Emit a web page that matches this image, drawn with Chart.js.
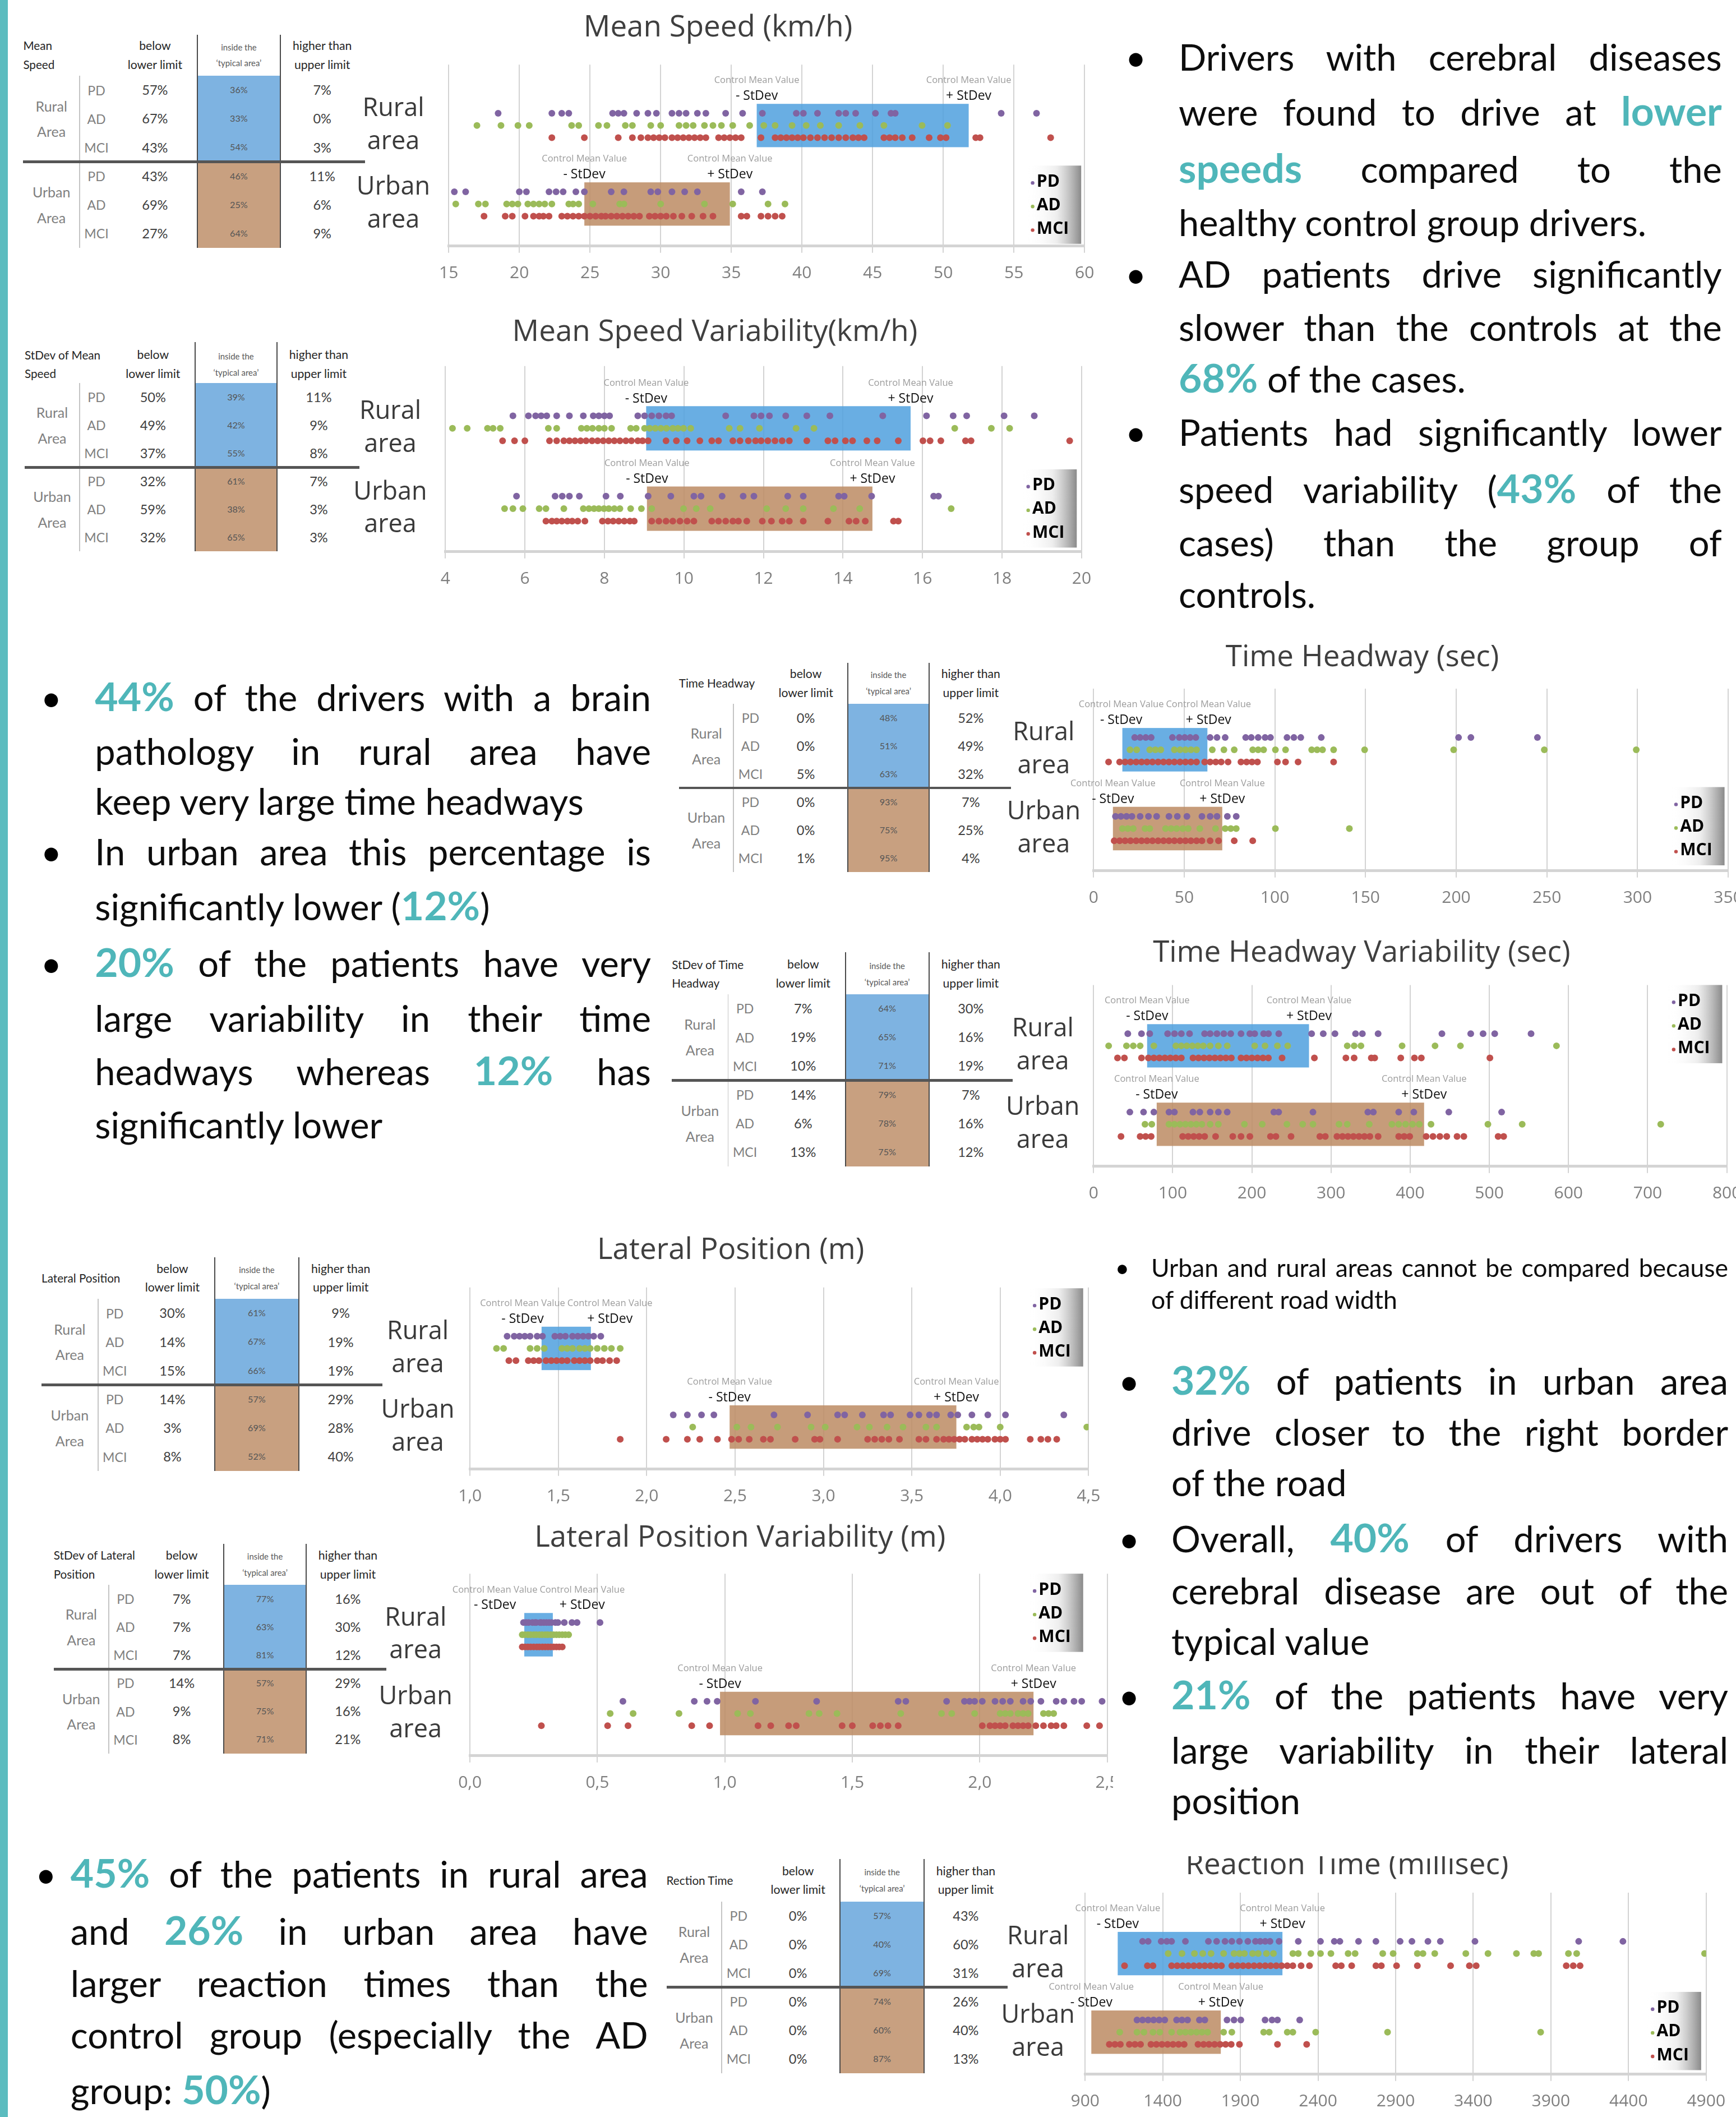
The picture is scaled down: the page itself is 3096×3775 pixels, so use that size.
<!DOCTYPE html>
<html>
<head>
<meta charset="utf-8">
<script src="https://cdn.jsdelivr.net/npm/chart.js@4.4.1/dist/chart.umd.min.js"></script>
<style>
html, body { margin: 0; padding: 0; overflow: hidden; background: #fff; }
body { width: 3096px; height: 3775px; position: relative; font-family: Lato, "Open Sans", sans-serif; }
b { color: #4fb6b9; font-weight: 700; font-size: 1.1em; line-height: 0; }
canvas { display: block; }
</style>
</head>
<body>
<script>
// ---- data ----
const groups = ['PD', 'AD', 'MCI'];
const groupColors = ['#8064a2', '#9bbb59', '#c0504d'];
const areaNames = [['Rural', 'area'], ['Urban', 'area']];

// Mean speed (km/h)
const speedTicks = [15, 20, 25, 30, 35, 40, 45, 50, 55, 60];
const speedBoxes = [[36.8, 51.8], [24.6, 34.9]];
const speedRuralPD = [18.5, 22.3, 23.0, 23.5, 26.6, 27.0, 27.4, 28.3, 29.1, 29.7, 30.8, 31.3, 31.8, 32.6, 33.2, 34.6, 35.8, 37.2, 39.6, 40.1, 41.1, 42.6, 43.1, 43.8, 45.2, 46.3, 46.6, 54.1, 56.6];
const speedRuralAD = [17.0, 18.7, 19.9, 20.7, 23.7, 24.2, 25.6, 26.2, 27.5, 28.0, 29.3, 30.0, 31.3, 31.8, 32.3, 33.1, 33.7, 34.3, 35.1, 36.3, 37.3, 38.1, 39.3, 40.3, 41.3, 42.6, 44.1, 45.8, 48.5, 50.3];
const speedRuralMCI = [22.3, 24.6, 27.0, 28.0, 28.6, 29.1, 29.5, 29.9, 30.3, 30.8, 31.2, 31.6, 32.0, 32.4, 32.8, 33.2, 34.1, 34.5, 34.9, 35.3, 35.7, 37.1, 38.1, 38.5, 38.9, 39.3, 39.7, 40.1, 40.6, 41.1, 41.6, 42.1, 42.6, 43.1, 43.6, 44.0, 44.4, 45.8, 46.2, 46.6, 47.1, 47.8, 49.0, 49.8, 50.2, 52.3, 52.6, 57.6];
const speedUrbanPD = [15.4, 16.2, 20.0, 20.5, 22.1, 22.6, 23.1, 24.0, 24.6, 26.5, 27.4, 29.3, 29.8, 30.8, 31.7, 32.6, 35.7, 37.2];
const speedUrbanAD = [15.5, 17.1, 17.6, 19.1, 19.5, 19.9, 20.6, 21.0, 21.4, 21.8, 22.3, 23.5, 23.8, 24.2, 25.2, 27.1, 27.4, 30.0, 33.1, 35.1, 37.6, 38.8];
const speedUrbanMCI = [17.5, 19.0, 19.5, 20.4, 21.0, 21.4, 21.7, 22.1, 23.0, 23.4, 23.8, 24.2, 24.6, 25.0, 25.4, 25.8, 26.1, 26.5, 26.9, 27.3, 27.7, 28.1, 28.5, 29.2, 29.6, 30.0, 30.4, 30.9, 31.5, 32.2, 33.0, 33.7, 35.7, 36.1, 37.1, 37.6, 38.1, 38.6];
const speedBelow = [57, 67, 43, 43, 69, 27];
const speedInside = [36, 33, 54, 46, 25, 64];
const speedHigher = [7, 0, 3, 11, 6, 9];

// Mean speed variability (km/h)
const speedVarTicks = [4, 6, 8, 10, 12, 14, 16, 18, 20];
const speedVarBoxes = [[9.05, 15.7], [9.07, 14.74]];
const speedVarRuralPD = [5.70, 6.09, 6.27, 6.41, 6.55, 6.80, 7.12, 7.47, 7.72, 7.86, 8.00, 8.13, 8.84, 9.01, 9.19, 9.37, 9.55, 9.69, 11.05, 11.76, 11.94, 12.15, 12.56, 13.09, 13.67, 15.00, 16.10, 16.77, 17.11, 18.05, 18.81];
const speedVarRuralAD = [4.18, 4.55, 5.06, 5.20, 5.38, 6.59, 6.80, 7.42, 7.56, 7.70, 7.86, 8.00, 8.18, 8.66, 8.80, 9.01, 9.14, 9.28, 9.42, 9.56, 9.72, 9.85, 9.99, 10.17, 11.14, 11.41, 11.90, 12.82, 13.27, 16.81, 17.73, 18.19];
const speedVarRuralMCI = [5.44, 5.74, 6.00, 6.62, 6.80, 6.98, 7.12, 7.26, 7.40, 7.54, 7.69, 7.83, 7.97, 8.11, 8.25, 8.39, 8.54, 8.68, 8.84, 8.96, 9.10, 9.55, 9.81, 10.08, 10.40, 10.70, 10.87, 11.23, 11.41, 11.62, 11.80, 11.94, 12.11, 12.29, 12.47, 12.65, 13.09, 13.62, 13.80, 14.06, 14.24, 14.60, 14.86, 15.39, 16.01, 16.19, 16.46, 17.08, 17.22, 19.70];
const speedVarUrbanPD = [5.79, 6.76, 6.94, 7.12, 7.37, 8.04, 8.40, 9.10, 9.67, 10.25, 10.43, 10.96, 11.49, 11.76, 12.61, 13.00, 13.89, 14.03, 14.72, 16.28, 16.40];
const speedVarUrbanAD = [5.49, 5.70, 5.95, 6.36, 6.53, 6.98, 7.47, 7.61, 7.74, 7.86, 7.99, 8.11, 8.25, 8.39, 8.66, 8.93, 9.19, 9.99, 10.31, 10.66, 12.08, 12.56, 13.00, 13.76, 14.42, 16.72];
const speedVarUrbanMCI = [6.53, 6.68, 6.80, 6.93, 7.07, 7.19, 7.33, 7.51, 7.95, 8.09, 8.22, 8.36, 8.50, 8.64, 8.75, 9.19, 9.37, 9.55, 9.72, 9.90, 10.08, 10.25, 10.70, 10.87, 11.05, 11.23, 11.37, 11.58, 11.97, 12.20, 12.47, 12.65, 13.00, 13.62, 14.15, 14.33, 14.56, 15.27, 15.39];
const speedVarBelow = [50, 49, 37, 32, 59, 32];
const speedVarInside = [39, 42, 55, 61, 38, 65];
const speedVarHigher = [11, 9, 8, 7, 3, 3];

// Time headway (sec)
const headwayTicks = [0, 50, 100, 150, 200, 250, 300, 350];
const headwayBoxes = [[15.9, 62.8], [10.7, 71.0]];
const headwayRuralPD = [22.7, 25.7, 28.8, 31.8, 43.5, 47.3, 50.3, 53.3, 56.4, 64.3, 68.1, 72.6, 83.9, 87.0, 90.8, 94.6, 97.6, 106.7, 110.5, 114.3, 125.6, 201.3, 208.1, 244.8];
const headwayRuralAD = [20.1, 23.8, 31.0, 34.1, 37.1, 44.6, 47.7, 50.7, 53.7, 56.8, 65.5, 71.9, 77.6, 87.8, 90.8, 93.8, 100.3, 105.9, 120.3, 123.3, 126.3, 132.4, 149.5, 198.6, 248.6, 299.3];
const headwayRuralMCI = [8.3, 14.4, 17.4, 20.4, 23.5, 26.5, 29.5, 32.5, 35.6, 38.6, 41.6, 44.6, 47.7, 50.7, 53.7, 56.8, 61.3, 64.3, 67.4, 70.4, 74.2, 81.3, 84.4, 87.4, 90.4, 101.4, 105.9, 112.8, 132.4];
const headwayUrbanPD = [12.1, 15.1, 18.2, 21.2, 25.7, 30.3, 34.8, 41.6, 46.2, 51.5, 59.8, 64.3, 68.1, 73.8, 78.7];
const headwayUrbanAD = [15.9, 18.9, 21.9, 28.4, 31.0, 39.7, 42.8, 45.8, 49.2, 52.2, 58.6, 67.3, 72.6, 75.7, 78.7, 100.3, 141.1];
const headwayUrbanMCI = [11.4, 14.4, 17.4, 20.4, 23.5, 26.5, 29.5, 32.5, 35.6, 38.6, 41.6, 44.6, 47.7, 50.7, 53.7, 56.8, 59.8, 64.3, 68.9, 77.6, 87.8];
const headwayBelow = [0, 0, 5, 0, 0, 1];
const headwayInside = [48, 51, 63, 93, 75, 95];
const headwayHigher = [52, 49, 32, 7, 25, 4];

// Time headway variability (sec)
const headwayVarTicks = [0, 100, 200, 300, 400, 500, 600, 700, 800];
const headwayVarBoxes = [[67.7, 272.2], [79.8, 417.6]];
const headwayVarRuralPD = [43.3, 60.6, 71.0, 93.6, 102.3, 110.9, 121.3, 140.3, 147.3, 155.9, 164.6, 173.3, 186.3, 197.5, 203.6, 214.9, 221.0, 234.0, 275.5, 290.2, 305.0, 331.0, 339.6, 359.5, 440.1, 476.5, 492.1, 506.8, 552.7];
const headwayVarRuralAD = [19.1, 41.6, 50.2, 58.9, 76.2, 104.0, 110.9, 117.8, 124.8, 131.7, 138.6, 147.3, 157.7, 168.9, 203.6, 216.6, 232.2, 245.2, 320.5, 329.2, 337.8, 389.8, 431.4, 463.5, 584.8];
const headwayVarRuralMCI = [30.3, 39.0, 60.6, 69.3, 76.2, 83.2, 90.1, 97.0, 103.9, 110.9, 125.6, 132.6, 139.5, 146.4, 153.3, 160.3, 167.2, 174.1, 186.3, 193.2, 200.1, 207.1, 214.0, 220.9, 238.2, 279.0, 318.8, 329.2, 350.9, 355.2, 388.1, 405.4, 414.1, 500.7];
const headwayVarUrbanPD = [45.9, 63.2, 76.2, 95.3, 102.2, 125.6, 134.3, 147.3, 157.7, 168.9, 227.8, 233.9, 277.2, 346.5, 353.5, 385.5, 404.6, 448.8, 515.5];
const headwayVarUrbanAD = [65.0, 73.6, 95.3, 102.2, 109.2, 116.1, 123.0, 129.9, 136.9, 147.3, 157.7, 190.6, 213.1, 244.3, 264.2, 277.2, 310.1, 320.5, 348.3, 376.9, 385.5, 394.2, 402.9, 411.5, 426.3, 498.2, 541.5, 716.5];
const headwayVarUrbanMCI = [34.7, 58.9, 65.8, 72.8, 112.6, 119.6, 126.5, 133.4, 140.4, 154.2, 175.9, 186.3, 197.5, 223.5, 230.4, 249.5, 285.9, 292.8, 307.5, 314.5, 321.4, 328.3, 335.3, 342.2, 349.1, 359.5, 385.5, 392.4, 399.4, 420.2, 428.8, 437.5, 446.2, 459.2, 467.8, 511.1, 518.1];
const headwayVarBelow = [7, 19, 10, 14, 6, 13];
const headwayVarInside = [64, 65, 71, 79, 78, 75];
const headwayVarHigher = [30, 16, 19, 7, 16, 12];

// Lateral position (m)
const lateralTicks = [1.0, 1.5, 2.0, 2.5, 3.0, 3.5, 4.0, 4.5];
const lateralBoxes = [[1.405, 1.684], [2.469, 3.752]];
const lateralRuralPD = [1.21, 1.25, 1.28, 1.31, 1.34, 1.38, 1.41, 1.48, 1.51, 1.54, 1.58, 1.61, 1.64, 1.67, 1.70, 1.74];
const lateralRuralAD = [1.15, 1.19, 1.34, 1.38, 1.42, 1.52, 1.55, 1.58, 1.62, 1.65, 1.68, 1.72, 1.76, 1.80, 1.85];
const lateralRuralMCI = [1.22, 1.26, 1.33, 1.36, 1.39, 1.43, 1.46, 1.49, 1.52, 1.55, 1.59, 1.62, 1.65, 1.68, 1.72, 1.75, 1.79, 1.83];
const lateralUrbanPD = [2.15, 2.23, 2.31, 2.38, 2.72, 2.91, 3.08, 3.12, 3.22, 3.34, 3.38, 3.49, 3.54, 3.60, 3.64, 3.72, 3.76, 3.84, 3.93, 4.03, 4.36];
const lateralUrbanAD = [2.26, 2.51, 2.59, 2.74, 2.93, 3.01, 3.19, 3.26, 3.36, 3.45, 3.58, 3.64, 3.81, 3.85, 3.88, 4.00, 4.49];
const lateralUrbanMCI = [1.85, 2.11, 2.23, 2.30, 2.40, 2.48, 2.52, 2.58, 2.66, 2.70, 2.84, 2.95, 2.98, 3.08, 3.25, 3.29, 3.33, 3.37, 3.43, 3.54, 3.58, 3.64, 3.68, 3.71, 3.74, 3.77, 3.80, 3.84, 3.87, 3.90, 3.93, 3.97, 4.00, 4.03, 4.17, 4.23, 4.27, 4.32];
const lateralBelow = [30, 14, 15, 14, 3, 8];
const lateralInside = [61, 67, 66, 57, 69, 52];
const lateralHigher = [9, 19, 19, 29, 28, 40];

// Lateral position variability (m)
const lateralVarTicks = [0, 0.5, 1.0, 1.5, 2.0, 2.5];
const lateralVarBoxes = [[0.213, 0.325], [0.981, 2.211]];
const lateralVarRuralPD = [0.21, 0.22, 0.23, 0.245, 0.255, 0.26, 0.275, 0.28, 0.29, 0.30, 0.31, 0.32, 0.335, 0.345, 0.37, 0.40, 0.42, 0.51];
const lateralVarRuralAD = [0.205, 0.215, 0.227, 0.238, 0.25, 0.26, 0.272, 0.283, 0.295, 0.305, 0.317, 0.328, 0.339, 0.35, 0.362, 0.374, 0.387];
const lateralVarRuralMCI = [0.205, 0.216, 0.227, 0.238, 0.25, 0.262, 0.272, 0.284, 0.295, 0.306, 0.317, 0.328, 0.339, 0.35, 0.362];
const lateralVarUrbanPD = [0.60, 0.88, 0.93, 0.97, 1.12, 1.36, 1.68, 1.71, 1.87, 1.94, 1.96, 1.98, 2.01, 2.06, 2.09, 2.12, 2.17, 2.20, 2.24, 2.30, 2.33, 2.37, 2.40, 2.48];
const lateralVarUrbanAD = [0.55, 0.64, 0.82, 1.05, 1.10, 1.33, 1.37, 1.44, 1.69, 1.85, 1.89, 1.98, 2.08, 2.10, 2.12, 2.15, 2.17, 2.19, 2.25, 2.27, 2.29];
const lateralVarUrbanMCI = [0.28, 0.54, 0.62, 0.87, 0.94, 1.13, 1.18, 1.25, 1.28, 1.46, 1.50, 1.58, 1.61, 1.64, 1.68, 2.01, 2.04, 2.06, 2.08, 2.10, 2.13, 2.15, 2.17, 2.19, 2.22, 2.25, 2.28, 2.30, 2.33, 2.42, 2.47];
const lateralVarBelow = [7, 7, 7, 14, 9, 8];
const lateralVarInside = [77, 63, 81, 57, 75, 71];
const lateralVarHigher = [16, 30, 12, 29, 16, 21];

// Reaction time (millisec)
const reactionTicks = [900, 1400, 1900, 2400, 2900, 3400, 3900, 4400, 4900];
const reactionBoxes = [[1110, 2171], [940, 1774]];
const reactionRuralPD = [1270, 1306, 1390, 1426, 1457, 1546, 1694, 1747, 1801, 1845, 1894, 1948, 1997, 2028, 2060, 2091, 2149, 2273, 2416, 2505, 2541, 2661, 2773, 2929, 3005, 3108, 3188, 3411, 4079, 4364];
const reactionRuralAD = [1435, 1524, 1604, 1658, 1711, 1792, 1859, 1894, 1926, 1979, 2015, 2068, 2113, 2238, 2273, 2354, 2416, 2483, 2594, 2639, 2817, 2884, 3040, 3076, 3152, 3352, 3495, 3678, 3790, 3821, 4013, 4066, 4890];
const reactionRuralMCI = [1154, 1301, 1337, 1457, 1493, 1529, 1564, 1600, 1636, 1671, 1707, 1743, 1778, 1845, 1881, 1917, 1952, 1988, 2024, 2060, 2095, 2131, 2166, 2202, 2238, 2291, 2345, 2514, 2550, 2617, 2773, 2808, 2906, 3040, 3254, 3375, 3419, 3999, 4044, 4088];
const reactionUrbanPD = [1234, 1270, 1306, 1341, 1377, 1413, 1489, 1524, 1560, 1636, 1671, 1814, 1859, 1903, 2059, 2104, 2139, 2282];
const reactionUrbanAD = [1123, 1234, 1279, 1337, 1381, 1457, 1511, 1546, 1582, 1618, 1653, 1689, 1792, 1845, 2050, 2086, 2202, 2238, 2385, 2848, 3834];
const reactionUrbanMCI = [1056, 1092, 1127, 1185, 1221, 1257, 1324, 1359, 1395, 1431, 1466, 1502, 1538, 1627, 1663, 1698, 1734, 1770, 1805, 1841, 1894, 2139, 2327];
const reactionBelow = [0, 0, 0, 0, 0, 0];
const reactionInside = [57, 40, 69, 74, 60, 87];
const reactionHigher = [43, 60, 31, 26, 40, 13];

// ---- layout (positions measured on a 1287px wide copy, scaled up by S) ----
const S = 3096 / 1287;
const px = v => (v * S) + 'px';
const BLUE_T = '#7eb3e1', BROWN_T = '#c8a080';
const BLUE_C = 'rgba(79,160,222,0.85)', BROWN_C = 'rgba(188,139,99,0.85)';
const areaRow = [0, 6.45];           // y of the PD lane in each area, lanes are 1 apart
const Y_MIN = -4, Y_MAX = 10.9, BOX_PAD = 0.78;
const YW = 72, XH = 40, PAD_T = 20, PAD_B = 20, TITLE_FS = 22;
const DOT = 6;

function el(css, html) {
    const d = document.createElement('div');
    d.style.cssText = 'position:absolute;' + css;
    if (html !== undefined) d.innerHTML = html;
    document.body.appendChild(d);
    return d;
}

function rect(x, y, w, h, color) {
    return el(`left:${px(x)};top:${px(y)};width:${px(w)};height:${px(h)};background:${color};`);
}

function label(text, cx, cy, size, color, weight, align) {
    const lh = size * 1.3;
    let css = `top:${px(cy - lh / 2)};height:${px(lh)};line-height:${px(lh)};font-size:${px(size)};` +
        `color:${color};font-weight:${weight || 400};white-space:nowrap;`;
    if (align === 'left') css += `left:${px(cx)};`;
    else css += `left:${px(cx - 100)};width:${px(200)};text-align:center;`;
    return el(css, text);
}

function buildTable(t, head, below, inside, higher) {
    const rh = (t.bottom - t.blueTop) / 6;
    const mid = t.blueTop + 3 * rh;
    rect(t.v2, t.blueTop, t.v3 - t.v2, mid - t.blueTop, BLUE_T);
    rect(t.v2, mid, t.v3 - t.v2, t.bottom - mid, BROWN_T);
    rect(t.v1 - 0.4, t.blueTop, 0.8, t.bottom - t.blueTop, '#c4c4c4');
    rect(t.v2 - 0.4, t.top, 0.8, t.bottom - t.top, '#4a4a4a');
    rect(t.v3 - 0.4, t.top, 0.8, t.bottom - t.top, '#4a4a4a');
    rect(t.left, mid - 1, t.right - t.left, 2, '#555');

    const cBelow = t.v2 - 31.3, cIn = (t.v2 + t.v3) / 2, cHigh = t.v3 + 31;
    head.forEach((h, i) => label(h, t.left, t.hy + (head.length === 1 ? 0 : (i ? 7 : -7)), 8.6, '#262626', 400, 'left'));
    label('below', cBelow, t.hy - 7, 8.8, '#262626');
    label('lower limit', cBelow, t.hy + 7, 8.8, '#262626');
    label('inside the', cIn, t.hy - 6, 6.2, '#595959');
    label('‘typical area’', cIn, t.hy + 6, 6.2, '#595959');
    label('higher than', cHigh, t.hy - 7, 8.8, '#262626');
    label('upper limit', cHigh, t.hy + 7, 8.8, '#262626');

    for (let i = 0; i < 6; i++) {
        const cy = t.blueTop + rh * (i + 0.5);
        label(groups[i % 3], t.v1 + 12.5, cy, 9.6, '#808080');
        label(below[i] + '%', cBelow, cy, 9.8, '#404040');
        label(inside[i] + '%', cIn, cy, 6.7, '#555');
        label(higher[i] + '%', cHigh, cy, 9.8, '#404040');
    }
    ['Rural', 'Urban'].forEach((a, k) => {
        const cy = t.blueTop + rh * (k * 3 + 1.5);
        label(a, (t.left + t.v1) / 2, cy - 9.5, 10.4, '#808080');
        label('Area', (t.left + t.v1) / 2, cy + 9.5, 10.4, '#808080');
    });
}

// boxes for the control group range, their labels and the PD/AD/MCI key
const stripPlugin = {
    id: 'strips',
    beforeDatasetsDraw(chart, args, o) {
        const { ctx, scales: { x, y } } = chart;
        ctx.save();
        o.boxes.forEach((b, a) => {
            const r = areaRow[a];
            const x0 = x.getPixelForValue(b[0]), x1 = x.getPixelForValue(b[1]);
            const y0 = y.getPixelForValue(r - BOX_PAD), y1 = y.getPixelForValue(r + 2 + BOX_PAD);
            ctx.fillStyle = a ? BROWN_C : BLUE_C;
            ctx.fillRect(x0, y0, x1 - x0, y1 - y0);

            ctx.font = '16.5px "Open Sans"';
            const cw = ctx.measureText('Control Mean Value').width;
            let cl = x0, cr = x1;
            if (cr - cl < cw + 4) {
                const m = (cl + cr) / 2;
                cl = m - cw / 2 - 2;
                cr = m + cw / 2 + 2;
            }
            const yc = y.getPixelForValue(r);
            ctx.textAlign = 'center';
            ctx.textBaseline = 'middle';
            ctx.fillStyle = '#9c9c9c';
            ctx.fillText('Control Mean Value', cl, yc - 24.3 * S);
            ctx.fillText('Control Mean Value', cr, yc - 24.3 * S);
            ctx.font = '23px "Open Sans"';
            ctx.fillStyle = '#111';
            ctx.fillText('- StDev', cl, yc - 12.6 * S);
            ctx.fillText('+ StDev', cr, yc - 12.6 * S);
        });
        ctx.restore();
    },
    afterDraw(chart, args, o) {
        const { ctx, chartArea: a } = chart;
        const L = o.legend;
        const W = 40 * S, H = 58 * S;
        const R = a.right - L.inset * S;
        const T = L.pos === 'top' ? a.top + L.off * S : a.bottom - L.off * S - H;
        ctx.save();
        const g = ctx.createLinearGradient(R - W, 0, R, 0);
        g.addColorStop(0, 'rgba(255,255,255,0)');
        g.addColorStop(0.55, 'rgba(230,230,230,0.7)');
        g.addColorStop(1, '#8a8a8a');
        ctx.fillStyle = g;
        ctx.fillRect(R - W, T, W, H);
        ctx.textBaseline = 'middle';
        ctx.textAlign = 'left';
        ctx.font = `bold ${12.5 * S}px "Open Sans"`;
        groups.forEach((name, i) => {
            const yy = T + (12 + 17.5 * i) * S;
            ctx.fillStyle = groupColors[i];
            ctx.beginPath();
            ctx.arc(R - 36 * S, yy + 2, 3.2, 0, Math.PI * 2);
            ctx.fill();
            ctx.fillStyle = '#000';
            ctx.fillText(name, R - 33 * S, yy);
        });
        ctx.restore();
    }
};

function stripChart(c) {
    const left = c.plotL - YW;
    const top = c.titleY - 0.6 * TITLE_FS - PAD_T;
    const pr = YW - 2 * ((c.plotL + c.plotR) / 2 - c.titleX);
    const w = c.plotR + pr - left;
    const h = c.plotB + XH + PAD_B - top;
    const box = el(`left:${px(left)};top:${px(top)};width:${px(w)};height:${px(h)};`);
    if (c.clipRight) box.style.clipPath = `inset(0px ${(left + w - c.clipRight) * S}px 0px 0px)`;
    if (c.clipTop) box.style.clipPath = `inset(${(c.clipTop - top) * S}px 0px 0px 0px)`;
    const canvas = document.createElement('canvas');
    canvas.width = Math.round(w * S);
    canvas.height = Math.round(h * S);
    box.appendChild(canvas);

    const m = document.createElement('canvas').getContext('2d');
    m.font = '45px "Open Sans"';
    const yPad = Math.max(0, c.labelOff * S - m.measureText('Urban').width / 2);

    const datasets = [];
    c.series.forEach((area, a) => area.forEach((vals, g) => datasets.push({
        label: groups[g],
        data: vals.map(v => ({ x: v, y: areaRow[a] + g })),
        backgroundColor: groupColors[g],
        pointRadius: DOT,
        pointHoverRadius: DOT,
        borderWidth: 0
    })));

    new Chart(canvas, {
        type: 'scatter',
        data: { datasets },
        options: {
            responsive: false,
            animation: false,
            devicePixelRatio: 1,
            events: [],
            layout: { padding: { top: PAD_T * S, right: pr * S, bottom: PAD_B * S, left: 0 } },
            scales: {
                x: {
                    type: 'linear',
                    min: c.ticks[0],
                    max: c.ticks[c.ticks.length - 1],
                    afterBuildTicks: s => { s.ticks = c.ticks.map(v => ({ value: v })); },
                    afterFit: s => { s.height = XH * S; },
                    ticks: {
                        autoSkip: false, maxRotation: 0, minRotation: 0, padding: 19,
                        color: '#7f7f7f', font: { size: 30 },
                        callback: v => c.comma ? v.toFixed(1).replace('.', ',') : v
                    },
                    grid: { color: '#d3d3d3', lineWidth: 2, tickLength: 12 },
                    border: { display: true, color: '#d4d4d4', width: 5 }
                },
                y: {
                    type: 'linear',
                    reverse: true,
                    min: Y_MIN,
                    max: Y_MAX,
                    afterBuildTicks: s => { s.ticks = areaRow.map(r => ({ value: r + 1 })); },
                    afterFit: s => { s.width = YW * S; },
                    ticks: {
                        padding: yPad, crossAlign: 'center', color: '#3a3a3a',
                        font: { size: 45, lineHeight: 1.3 },
                        callback: (v, i) => areaNames[i]
                    },
                    grid: { display: false },
                    border: { display: false }
                }
            },
            plugins: {
                legend: { display: false },
                tooltip: { enabled: false },
                title: {
                    display: true,
                    text: c.title,
                    color: '#3f3f3f',
                    font: { size: TITLE_FS * S, weight: 'normal', lineHeight: 1.2 },
                    padding: { top: 0, bottom: (c.plotT - c.titleY - 0.6 * TITLE_FS) * S }
                },
                strips: { boxes: c.boxes, legend: c.legend }
            }
        },
        plugins: [stripPlugin]
    });
}

function textBlock(b) {
    const W = (b.r - b.x) * S, lh = b.size * 1.3;
    const items = b.lines.map(l => {
        if (l.b) label('•', b.bx, l.y, b.size, '#000');
        const d = el(`left:${px(b.x)};top:${px(l.y - lh / 2)};height:${px(lh)};line-height:${px(lh)};` +
            `font-size:${px(b.size)};white-space:nowrap;transform-origin:0 50%;color:#0d0d0d;`);
        const s = document.createElement('span');
        s.innerHTML = l.h;
        d.appendChild(s);
        return { d, s, j: l.j, w: 0 };
    });
    items.forEach(it => { it.w = it.s.getBoundingClientRect().width; });
    let f = 1;
    items.forEach(it => { if (it.j) f = Math.min(f, W / it.w); });
    items.forEach(it => {
        if (f < 1) it.d.style.transform = `scaleX(${f})`;
        if (it.j) {
            const n = (it.s.textContent.match(/ /g) || []).length;
            if (n) it.s.style.wordSpacing = ((W / f - it.w) / n) + 'px';
        }
    });
}

function build() {
    Chart.defaults.font.family = '"Open Sans", sans-serif';
    rect(0, 0, 14 / S, 3775 / S, '#5bbcbf');

    buildTable({ left: 17.2, right: 270.5, top: 25.6, hy: 41, blueTop: 56.1, bottom: 183.7, v1: 59, v2: 146.2, v3: 207.9 },
        ['Mean', 'Speed'], speedBelow, speedInside, speedHigher);
    buildTable({ left: 18.3, right: 266.4, top: 253.6, hy: 270.2, blueTop: 284.1, bottom: 408.8, v1: 59, v2: 144.7, v3: 205.3 },
        ['StDev of Mean', 'Speed'], speedVarBelow, speedVarInside, speedVarHigher);
    buildTable({ left: 503.3, right: 749.7, top: 491.2, hy: 506.5, blueTop: 521.7, bottom: 646.4, v1: 543.9, v2: 628.7, v3: 688.7 },
        ['Time Headway'], headwayBelow, headwayInside, headwayHigher);
    buildTable({ left: 498.1, right: 750.7, top: 706, hy: 722, blueTop: 736.9, bottom: 864.7, v1: 539.8, v2: 626.7, v3: 688.7 },
        ['StDev of Time', 'Headway'], headwayVarBelow, headwayVarInside, headwayVarHigher);
    buildTable({ left: 30.8, right: 283.7, top: 931.9, hy: 947.5, blueTop: 962.8, bottom: 1090.5, v1: 72.6, v2: 159.1, v3: 221.6 },
        ['Lateral Position'], lateralBelow, lateralInside, lateralHigher);
    buildTable({ left: 39.8, right: 286.3, top: 1144.5, hy: 1160, blueTop: 1174.8, bottom: 1299.8, v1: 80.6, v2: 166, v3: 226.9 },
        ['StDev of Lateral', 'Position'], lateralVarBelow, lateralVarInside, lateralVarHigher);
    buildTable({ left: 494.1, right: 747.1, top: 1378, hy: 1394, blueTop: 1409.6, bottom: 1536.7, v1: 535.1, v2: 622.9, v3: 685 },
        ['Rection Time'], reactionBelow, reactionInside, reactionHigher);

    stripChart({ title: 'Mean Speed (km/h)', ticks: speedTicks, boxes: speedBoxes,
        series: [[speedRuralPD, speedRuralAD, speedRuralMCI], [speedUrbanPD, speedUrbanAD, speedUrbanMCI]],
        plotL: 332.7, plotR: 804, plotT: 48, plotB: 182.6, titleY: 20.8, titleX: 556, labelOff: 37.7,
        legend: { pos: 'bottom', inset: 2.5, off: 1.6 } });
    stripChart({ title: 'Mean Speed Variability(km/h)', ticks: speedVarTicks, boxes: speedVarBoxes,
        series: [[speedVarRuralPD, speedVarRuralAD, speedVarRuralMCI], [speedVarUrbanPD, speedVarUrbanAD, speedVarUrbanMCI]],
        plotL: 330, plotR: 801.6, plotT: 271.5, plotB: 409.2, titleY: 246.6, titleX: 556, labelOff: 37.5,
        legend: { pos: 'bottom', inset: 3.6, off: 3 } });
    stripChart({ title: 'Time Headway (sec)', ticks: headwayTicks, boxes: headwayBoxes,
        series: [[headwayRuralPD, headwayRuralAD, headwayRuralMCI], [headwayUrbanPD, headwayUrbanAD, headwayUrbanMCI]],
        plotL: 810.6, plotR: 1281, plotT: 510.6, plotB: 645.7, titleY: 487.7, titleX: 1039.3, labelOff: 33.6,
        legend: { pos: 'bottom', inset: 2.7, off: 4 } });
    stripChart({ title: 'Time Headway Variability (sec)', ticks: headwayVarTicks, boxes: headwayVarBoxes,
        series: [[headwayVarRuralPD, headwayVarRuralAD, headwayVarRuralMCI], [headwayVarUrbanPD, headwayVarUrbanAD, headwayVarUrbanMCI]],
        plotL: 810.6, plotR: 1280, plotT: 730.2, plotB: 864.7, titleY: 706.7, titleX: 1041.8, labelOff: 34.3,
        legend: { pos: 'top', inset: 3.4, off: 0 } });
    stripChart({ title: 'Lateral Position (m)', ticks: lateralTicks, boxes: lateralBoxes, comma: true,
        series: [[lateralRuralPD, lateralRuralAD, lateralRuralMCI], [lateralUrbanPD, lateralUrbanAD, lateralUrbanMCI]],
        plotL: 348.4, plotR: 807, plotT: 954.4, plotB: 1089.1, titleY: 927, titleX: 575.3, labelOff: 35.4,
        legend: { pos: 'top', inset: 4, off: 0.6 } });
    stripChart({ title: 'Lateral Position Variability (m)', ticks: lateralVarTicks, boxes: lateralVarBoxes, comma: true,
        series: [[lateralVarRuralPD, lateralVarRuralAD, lateralVarRuralMCI], [lateralVarUrbanPD, lateralVarUrbanAD, lateralVarUrbanMCI]],
        plotL: 348.4, plotR: 820.8, plotT: 1166.7, plotB: 1301.4, titleY: 1140.4, titleX: 575.3, labelOff: 37,
        legend: { pos: 'top', inset: 17.8, off: 0 }, clipRight: 825 });
    stripChart({ title: 'Reaction Time (millisec)', ticks: reactionTicks, boxes: reactionBoxes,
        series: [[reactionRuralPD, reactionRuralAD, reactionRuralMCI], [reactionUrbanPD, reactionUrbanAD, reactionUrbanMCI]],
        plotL: 804.6, plotR: 1264.9, plotT: 1403, plotB: 1537.7, titleY: 1383, titleX: 1020, labelOff: 31.6,
        legend: { pos: 'bottom', inset: 3.7, off: 3 }, clipTop: 1376 });

    textBlock({ x: 873.8, r: 1276.5, bx: 842, size: 27, lines: [
        { y: 42, h: 'Drivers with cerebral diseases', j: 1, b: 1 },
        { y: 83, h: 'were found to drive at <b>lower</b>', j: 1 },
        { y: 125.3, h: '<b>speeds</b> compared to the', j: 1 },
        { y: 164.9, h: 'healthy control group drivers.' },
        { y: 203, h: 'AD patients drive significantly', j: 1, b: 1 },
        { y: 242.6, h: 'slower than the controls at the', j: 1 },
        { y: 280.7, h: '<b>68%</b> of the cases.' },
        { y: 320.2, h: 'Patients had significantly lower', j: 1, b: 1 },
        { y: 362.6, h: 'speed variability (<b>43%</b> of the', j: 1 },
        { y: 402.1, h: 'cases) than the group of', j: 1 },
        { y: 440.2, h: 'controls.' }
    ] });
    textBlock({ x: 70.4, r: 482.6, bx: 38, size: 27, lines: [
        { y: 517, h: '<b>44%</b> of the drivers with a brain', j: 1, b: 1 },
        { y: 556.6, h: 'pathology in rural area have', j: 1 },
        { y: 593.7, h: 'keep very large time headways' },
        { y: 631, h: 'In urban area this percentage is', j: 1, b: 1 },
        { y: 671.7, h: 'significantly lower (<b>12%</b>)' },
        { y: 713.7, h: '<b>20%</b> of the patients have very', j: 1, b: 1 },
        { y: 754.5, h: 'large variability in their time', j: 1 },
        { y: 794, h: 'headways whereas <b>12%</b> has', j: 1 },
        { y: 833.6, h: 'significantly lower' }
    ] });
    textBlock({ x: 853.4, r: 1281.2, bx: 832, size: 18.5, lines: [
        { y: 939.5, h: 'Urban and rural areas cannot be compared because', j: 1, b: 1 },
        { y: 963, h: 'of different road width' }
    ] });
    textBlock({ x: 868.4, r: 1281.2, bx: 837, size: 27, lines: [
        { y: 1023.5, h: '<b>32%</b> of patients in urban area', j: 1, b: 1 },
        { y: 1061.4, h: 'drive closer to the right border', j: 1 },
        { y: 1098.8, h: 'of the road' },
        { y: 1140.4, h: 'Overall, <b>40%</b> of drivers with', j: 1, b: 1 },
        { y: 1179.2, h: 'cerebral disease are out of the', j: 1 },
        { y: 1216.6, h: 'typical value' },
        { y: 1256.8, h: '<b>21%</b> of the patients have very', j: 1, b: 1 },
        { y: 1297, h: 'large variability in their lateral', j: 1 },
        { y: 1334.4, h: 'position' }
    ] });
    textBlock({ x: 52.3, r: 480.4, bx: 34, size: 27, lines: [
        { y: 1389.1, h: '<b>45%</b> of the patients in rural area', j: 1, b: 1 },
        { y: 1431.4, h: 'and <b>26%</b> in urban area have', j: 1 },
        { y: 1470.2, h: 'larger reaction times than the', j: 1 },
        { y: 1508.3, h: 'control group (especially the AD', j: 1 },
        { y: 1549.2, h: 'group: <b>50%</b>)' }
    ] });
}

if (document.fonts && document.fonts.ready) document.fonts.ready.then(build);
else window.addEventListener('load', build);
</script>
</body>
</html>
